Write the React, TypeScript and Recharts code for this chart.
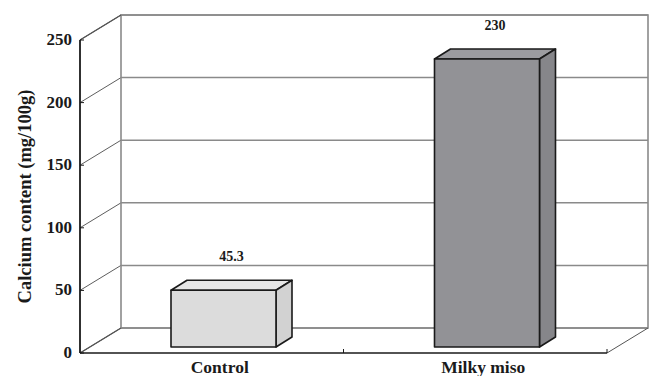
import { BarChart, Bar, Cell, XAxis, YAxis, CartesianGrid, ReferenceArea, LabelList } from 'recharts';

const categories = ['Control', 'Milky miso'];
const calcium = [45.3, 230];
const yTicks = [0, 50, 100, 150, 200, 250];

const data = categories.map((name, i) => ({ name, calcium: calcium[i] }));

const FONT = '"Liberation Serif", "Times New Roman", serif';
const INK = '#1a1a1a';
const WALL = '#8a8a8a';

// back wall offset (3D depth of the chart)
const DX = 41;
const DY = -25;
// bar placement inside the depth and bar thickness
const BX = 12;
const BY = -6;
const DW = 16;
const DH = 10;

const BAR_COLORS = [
  { front: '#dcdcdc', top: '#e6e6e6', side: '#d2d2d2' },
  { front: '#929296', top: '#9c9ca0', side: '#86868a' },
];

const Wall = (props: any) => {
  const { x, y, width, height } = props;
  const bottom = y + height;
  const right = x + width;
  const n = categories.length;
  return (
    <g>
      <rect x={x + DX} y={y + DY} width={width} height={height} fill="none" stroke={WALL} strokeWidth={1.6} />
      <line x1={x} y1={y} x2={x + DX} y2={y + DY} stroke="#555" strokeWidth={1.4} />
      <line x1={x} y1={bottom} x2={x + DX} y2={bottom + DY} stroke="#555" strokeWidth={1.4} />
      <line x1={right} y1={bottom} x2={right + DX} y2={bottom + DY} stroke="#555" strokeWidth={1} />
      {/* category divider ticks on the floor edge */}
      {categories.map((_, i) => {
        const tx = x + (width * (i + 1)) / n;
        return <line key={`div-${i}`} x1={tx} y1={bottom} x2={tx} y2={bottom - 4} stroke={INK} strokeWidth={1} />;
      })}
    </g>
  );
};

const GridLine = (props: any) => {
  const { x1, y1, x2, index } = props;
  return (
    <g key={`grid-${index}`}>
      <line x1={x1} y1={y1} x2={x1 + DX} y2={y1 + DY} stroke="#333" strokeWidth={0.8} />
      <line x1={x1 + DX} y1={y1 + DY} x2={x2 + DX} y2={y1 + DY} stroke={WALL} strokeWidth={1.5} />
    </g>
  );
};

const Box = (props: any) => {
  const { x, y, width, height, index } = props;
  const c = BAR_COLORS[index % BAR_COLORS.length];
  const fx = x + BX;
  const fy = y + BY;
  return (
    <g stroke={INK} strokeWidth={1.6} strokeLinejoin="round">
      <polygon
        points={`${fx},${fy} ${fx + DW},${fy - DH} ${fx + width + DW},${fy - DH} ${fx + width},${fy}`}
        fill={c.top}
      />
      <polygon
        points={`${fx + width},${fy} ${fx + width + DW},${fy - DH} ${fx + width + DW},${fy + height - DH} ${fx + width},${fy + height}`}
        fill={c.side}
      />
      <rect x={fx} y={fy} width={width} height={height} fill={c.front} />
    </g>
  );
};

const ValueLabel = (props: any) => {
  const { x, y, width, value } = props;
  return (
    <text
      x={x + BX + (width + DW) / 2}
      y={y + BY - 29}
      textAnchor="middle"
      fontFamily={FONT}
      fontWeight="bold"
      fontSize={14}
      fill={INK}
    >
      {value}
    </text>
  );
};

const CategoryTick = (props: any) => {
  const { x, y, payload } = props;
  return (
    <text x={x + 8} y={y} dy={12} textAnchor="middle" fontFamily={FONT} fontWeight="bold" fontSize={17.5} fill={INK}>
      {payload.value}
    </text>
  );
};

const ValueTick = (props: any) => {
  const { x, y, payload } = props;
  return (
    <g>
      <line x1={x + 10} y1={y} x2={x + 14} y2={y} stroke={INK} strokeWidth={1} />
      <text x={x + 2} y={y} dy={5} textAnchor="end" fontFamily={FONT} fontWeight="bold" fontSize={17} fill={INK}>
        {payload.value}
      </text>
    </g>
  );
};

export default function App() {
  return (
    <div style={{ position: 'absolute', left: 0, top: 0, width: 649, height: 376, background: '#fff' }}>
      <BarChart width={649} height={376} data={data} margin={{ top: 40, right: 42, bottom: 0, left: 0 }}>
        <ReferenceArea y1={0} y2={250} shape={<Wall />} ifOverflow="visible" />
        <CartesianGrid horizontal={GridLine as any} vertical={false} />
        <XAxis
          dataKey="name"
          height={23}
          tickLine={false}
          tickSize={0}
          tickMargin={8}
          axisLine={{ stroke: INK, strokeWidth: 1.6 }}
          tick={<CategoryTick />}
        />
        <YAxis
          width={80}
          domain={[0, 250]}
          ticks={yTicks}
          tickLine={false}
          tickSize={0}
          tickMargin={10}
          axisLine={{ stroke: INK, strokeWidth: 1.8 }}
          tick={<ValueTick />}
          label={{
            value: 'Calcium content (mg/100g)',
            angle: -90,
            position: 'center',
            dx: -16,
            style: { fontFamily: FONT, fontWeight: 'bold', fontSize: 18.5, fill: INK, textAnchor: 'middle' },
          }}
        />
        <Bar dataKey="calcium" barSize={105} shape={<Box />} isAnimationActive={false}>
          {data.map((_, i) => (
            <Cell key={`cell-${i}`} fill={BAR_COLORS[i].front} />
          ))}
          <LabelList dataKey="calcium" content={<ValueLabel />} />
        </Bar>
      </BarChart>
    </div>
  );
}
